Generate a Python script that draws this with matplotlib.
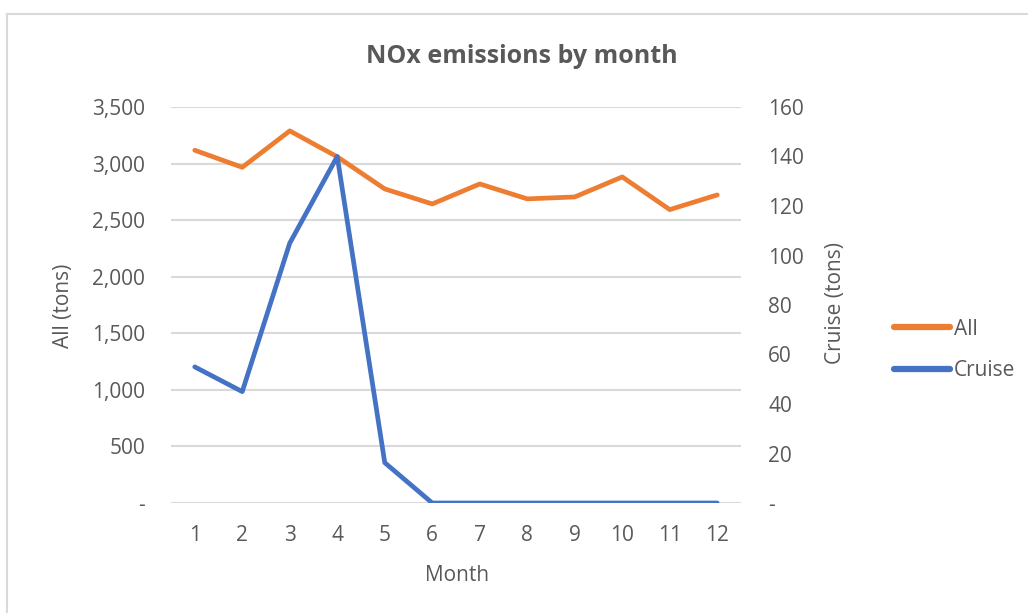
import matplotlib
matplotlib.use("Agg")
import matplotlib.pyplot as plt
from matplotlib.ticker import FuncFormatter
from matplotlib.lines import Line2D

plt.rcParams['font.family'] = ['Open Sans', 'DejaVu Sans']

months = [1, 2, 3, 4, 5, 6, 7, 8, 9, 10, 11, 12]
all_tons = [3118, 2967, 3289, 3060, 2776, 2643, 2820, 2688, 2705, 2882, 2593, 2723]
cruise_tons = [55, 45, 105, 140, 16.3, 0, 0, 0, 0, 0, 0, 0]
left_ticks = [0, 500, 1000, 1500, 2000, 2500, 3000, 3500]
right_ticks = [0, 20, 40, 60, 80, 100, 120, 140, 160]

TXT = '#595959'
GRID = '#D9D9D9'
ORANGE = '#ED7D31'
BLUE = '#4472C4'
FS = 15

W, H = 1028, 613
fig = plt.figure(figsize=(W / 100, H / 100), dpi=100)
fig.patch.set_facecolor('white')

# chart frame (top and left edges visible)
fig.add_artist(Line2D([7 / W, 1.0], [1 - 14 / H, 1 - 14 / H], color=GRID, lw=1.5, transform=fig.transFigure))
fig.add_artist(Line2D([7 / W, 7 / W], [0, 1 - 14 / H], color=GRID, lw=1.5, transform=fig.transFigure))

ax = fig.add_axes([171 / W, 1 - 503 / H, (741 - 171) / W, (503 - 107) / H])
ax2 = ax.twinx()

ax.set_xlim(0.5, 12.5)
ax.set_ylim(0, 3500)
ax2.set_ylim(0, 160)

ax.set_yticks(left_ticks)
ax2.set_yticks(right_ticks)
ax.set_xticks(months)
ax.set_xticklabels([str(m) for m in months])

def fmt_left(v, pos):
    return '-' if v == 0 else f'{int(v):,}'

def fmt_right(v, pos):
    return '-' if v == 0 else f'{int(v)}'

ax.yaxis.set_major_formatter(FuncFormatter(fmt_left))
ax2.yaxis.set_major_formatter(FuncFormatter(fmt_right))

ax.grid(axis='y', color=GRID, lw=1.5)
ax.set_axisbelow(True)
for a in (ax, ax2):
    for s in a.spines.values():
        s.set_visible(False)
    a.tick_params(length=0, labelsize=FS, colors=TXT)
ax.tick_params(axis='y', pad=18.5)
ax2.tick_params(axis='y', pad=19.5)
ax.tick_params(axis='x', pad=16)

l1, = ax.plot(months, all_tons, color=ORANGE, lw=3.4, solid_capstyle='round', solid_joinstyle='round', zorder=3)
l2, = ax2.plot(months, cruise_tons, color=BLUE, lw=3.4, solid_capstyle='round', solid_joinstyle='round', zorder=3)

fig.text(63 / W, 1 - 306 / H, 'All (tons)', rotation=90, ha='center', va='center', fontsize=FS, color=TXT)
fig.text(835 / W, 1 - 303 / H, 'Cruise (tons)', rotation=90, ha='center', va='center', fontsize=FS, color=TXT)
fig.text(457 / W, 1 - 581 / H, 'Month', ha='center', va='baseline', fontsize=FS, color=TXT)

fig.text(522 / W, 1 - 63 / H, 'NOx emissions by month', ha='center', va='baseline',
         fontsize=18, fontweight='bold', color=TXT)

leg = fig.legend([l1, l2], ['All', 'Cruise'], loc='center left',
                 bbox_to_anchor=(884 / W, 1 - 350 / H), frameon=False, borderpad=0,
                 fontsize=FS, handlelength=2.65, handletextpad=0.2, labelspacing=1.0)
for t in leg.get_texts():
    t.set_color(TXT)
for h in leg.legend_handles:
    h.set_linewidth(4.5)
    h.set_solid_capstyle('round')

fig.savefig('out.png', dpi=100, facecolor='white')
